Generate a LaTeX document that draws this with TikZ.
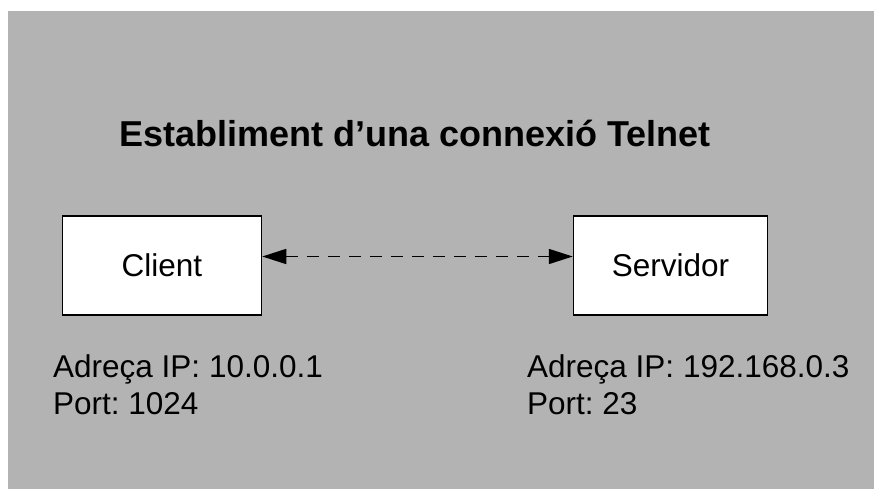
\documentclass[tikz,border=0pt]{standalone}
\usepackage{fontspec}
\setmainfont{Liberation Sans}
\usetikzlibrary{positioning,arrows.meta}
\definecolor{bggray}{RGB}{179,179,179}
\frenchspacing

\begin{document}
\begin{tikzpicture}[x=1pt,y=-1pt,>={Triangle[length=24pt,width=15pt]},
                    host/.style={draw=black,line width=1.5pt,fill=white,
                                 minimum width=194pt,minimum height=99pt,
                                 font=\fontsize{31.5}{36}\selectfont},
                    info/.style={anchor=base west,inner sep=0pt,
                                 font=\fontsize{31.5}{36}\selectfont},
                    link/.style={<->,dash pattern=on 12pt off 9pt,line width=1.6pt}]
            %Background
                \useasboundingbox (0,0) rectangle (874,489);
                \fill[bggray] (8,11) rectangle (874,489);

            %Nodes
                \node[font=\bfseries\fontsize{36}{42}\selectfont] (title) at (415,133) {Establiment d’una connexió Telnet};
                \node[host,minimum width=199pt] (client) at (162,265.5) {Client};
                \node[host] (server) at (670.5,265.5) {Servidor};
                \node[info] (cip) at (53,377) {Adreça IP: 10.0.0.1};
                \node[info] (cport) at (53,414) {Port: 1024};
                \node[info] (sip) at (527,377) {Adreça IP: 192.168.0.3};
                \node[info] (sport) at (527,414) {Port: 23};

            %Lines
                \draw[link] ([yshift=9pt]client.east) -- ([yshift=9pt]server.west);
\end{tikzpicture}
\end{document}
